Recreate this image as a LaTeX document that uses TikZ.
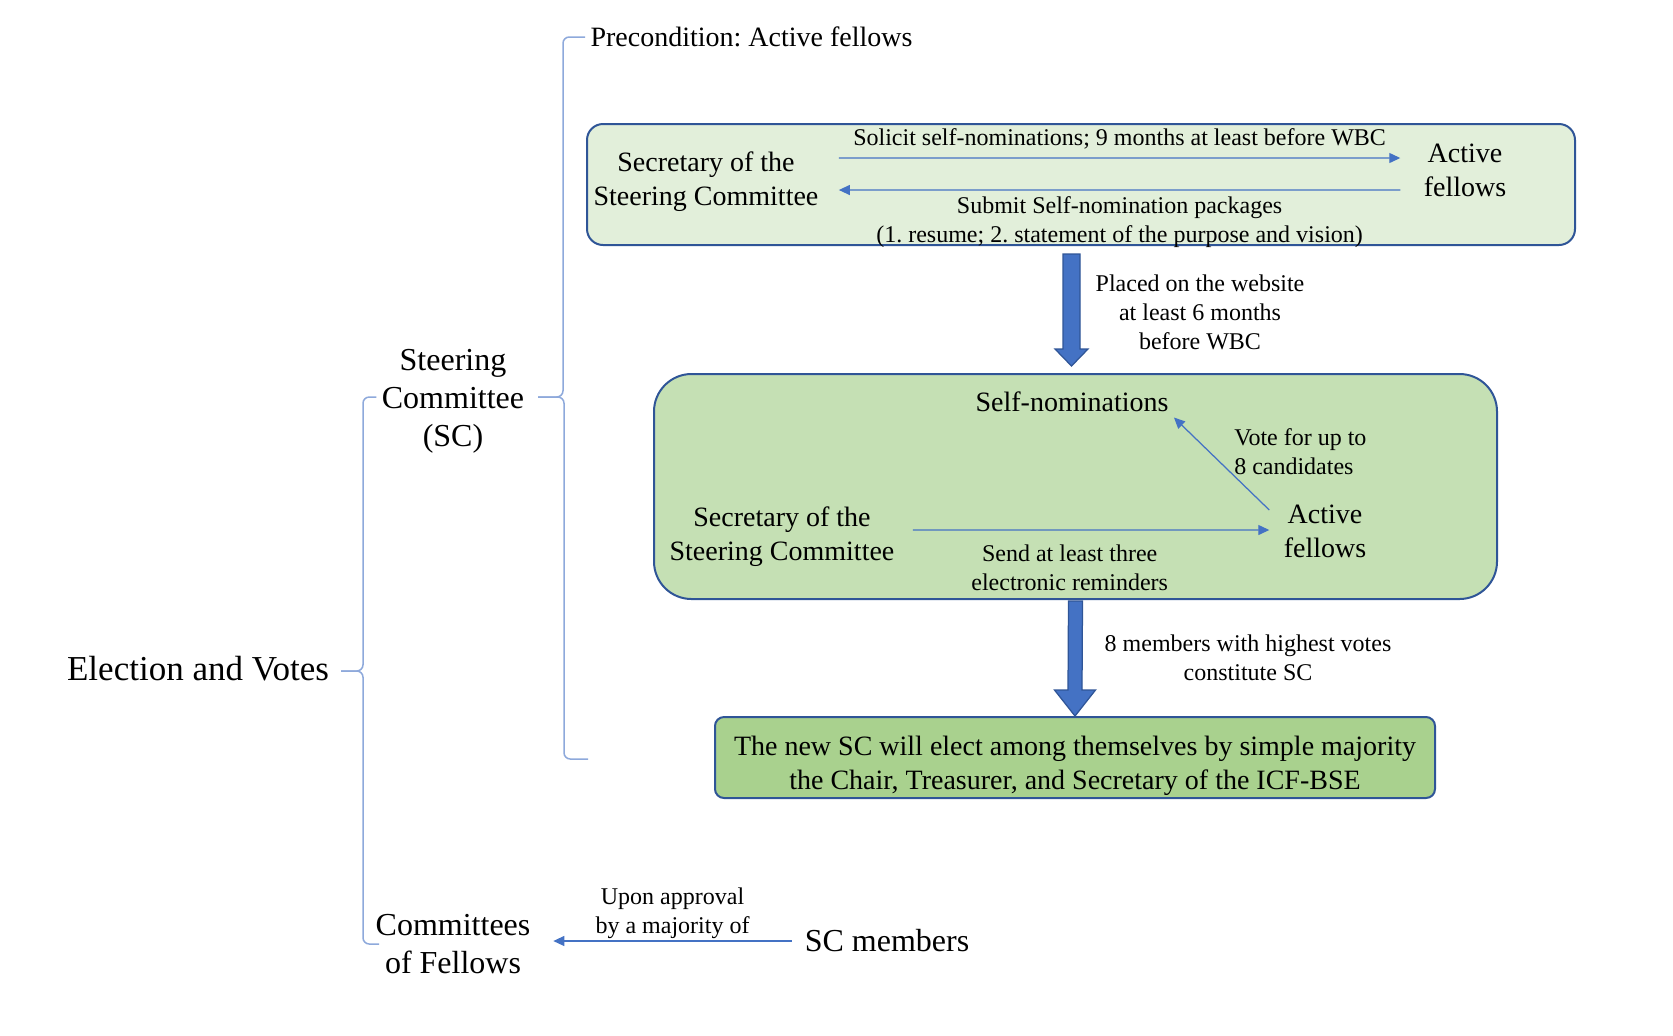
\documentclass[tikz,border=0pt]{standalone}
\usepackage{fontspec}
\setmainfont{Liberation Serif}
\frenchspacing
\usetikzlibrary{arrows.meta,positioning,calc}
\definecolor{lineblue}{HTML}{4472C4}
\definecolor{bracecol}{HTML}{8EA9DB}
\definecolor{boxedge}{HTML}{2F5597}
\definecolor{greenA}{HTML}{E2EFDA}
\definecolor{greenB}{HTML}{C5E0B4}
\definecolor{greenC}{HTML}{A9D18E}
\tikzstyle{panel} = [draw=boxedge,line width=0.8pt,rectangle,inner sep=0]
\tikzstyle{txt} = [align=center,font=\fontsize{11.2}{13.6}\selectfont,inner sep=2pt]
\tikzstyle{head} = [align=center,font=\fontsize{12.8}{15.2}\selectfont,inner sep=2pt]
\tikzstyle{lbl} = [align=center,text=black,font=\fontsize{9.6}{11.6}\selectfont,inner sep=1.5pt]
\tikzstyle{flow} = [-{Triangle[length=4.4pt,width=4pt]},lineblue,line width=0.5pt]
\tikzstyle{brace} = [bracecol,line width=0.6pt,rounded corners=2.5pt]
\tikzstyle{fat} = [fill=lineblue,draw=boxedge,line width=0.5pt]
\def \px {0.4pt}
% block arrow: start, tip, half shaft, half head, head length
\newcommand{\fatarrow}[5]{\path[fat] ($(#1)+(-#3,0)$) -- ($(#2)+(-#3,-#5)$) -- ($(#2)+(-#4,-#5)$) -- (#2) -- ($(#2)+(#4,-#5)$) -- ($(#2)+(#3,-#5)$) -- ($(#1)+(#3,0)$) -- cycle;}

\begin{document}
\begin{tikzpicture}[x=\px,y=-\px]
      \useasboundingbox (0,0) rectangle (1673,1035);
      % panels
      \node[panel,fill=greenA,rounded corners=6.4pt,minimum width=988*\px,minimum height=121*\px] (top) at (1081,184.5) {};
      \node[panel,fill=greenB,rounded corners=15pt,minimum width=843*\px,minimum height=225*\px] (mid) at (1075.5,486.5) {};
      \node[panel,fill=greenC,rounded corners=3.6pt,minimum width=720*\px,minimum height=81*\px] (final) at (1075,757.5) {};
      \node[txt] (finaltxt) at ($(final)+(0,8.5)$) {The new SC will elect among themselves by simple majority\\the Chair, Treasurer, and Secretary of the ICF-BSE};

      % tree labels
      \node[align=center,font=\fontsize{14}{17}\selectfont,inner sep=2pt] (elect) at (198,669) {Election and Votes};
      \node[head] (sc) at (453,401) {Steering\\Committee\\(SC)};
      \node[head] (cof) at (453,944) {Committees\\of Fellows};
      \node[head] (scm) at (887,941) {SC members};
      \node[txt,anchor=west] (precond) at (585,37) {Precondition: Active fellows};

      % braces
      \coordinate (sctip) at (538,397);
      \coordinate (scend) at (588,759);
      \draw[brace] (precond.west) -- ++(-22,0) |- (sctip);
      \draw[brace] (sctip) -- ++(26,0) |- (scend);
      \coordinate (eltip) at (341,671);
      \coordinate (elend) at (379,944);
      \draw[brace] (sc.west |- sctip) -| (363,671) -- (eltip);
      \draw[brace] (eltip) -- ++(22,0) |- (elend);

      % first step
      \node[txt] (sec1) at (706,182) {Secretary of the\\Steering Committee};
      \node[txt] (act1) at (1465,170) {Active\\fellows};
      \draw[flow] ([xshift=6pt,yshift=9.6pt]sec1.east) -- ([xshift=-7.2pt,yshift=4.8pt]act1.west) node[lbl,midway,above=1.7pt]{Solicit self-nominations; 9 months at least before WBC};
      \draw[flow] ([xshift=-7.2pt,yshift=-8pt]act1.west) -- ([xshift=6pt,yshift=-3.2pt]sec1.east) node[lbl,midway,below=0.85pt]{Submit Self-nomination packages\\(1. resume; 2. statement of the purpose and vision)};

      \coordinate (a1s) at ($(top.south -| mid.north)+(-4,8)$);
      \coordinate (a1e) at ($(mid.north)+(-4,-7)$);
      \fatarrow{a1s}{a1e}{8.5}{16.5}{17}
      \node[lbl] (placed) at (1200,312) {Placed on the website\\at least 6 months\\before WBC};

      % second step
      \node[txt] (selfnom) at (1072,402) {Self-nominations};
      \node[txt] (sec2) at (782,537) {Secretary of the\\Steering Committee};
      \node[txt] (act2) at (1325,531) {Active\\fellows};
      \draw[flow] ([xshift=5.2pt,yshift=2.8pt]sec2.east) -- ([xshift=-3.6pt,yshift=0.4pt]act2.west) node[lbl,pos=0.44,below=4pt]{Send at least three\\electronic reminders};
      \draw[flow] ([xshift=-3.6pt,yshift=8.4pt]act2.west) -- (selfnom.south east);
      \node[lbl,align=left,anchor=west] (vote) at (1230,452) {Vote for up to\\8 candidates};

      \coordinate (a2s) at ($(mid.south)+(0,1)$);
      \coordinate (a2e) at (final.north);
      \fatarrow{a2s}{a2e}{7}{20.5}{26}
      \node[lbl] (members) at (1248,658) {8 members with highest votes\\constitute SC};

      % committees of fellows
      \draw[flow] ([xshift=-3pt]scm.west) -- ($(cof.east |- scm.west)+(17.5,0)$) node[lbl,midway,above=-0.85pt]{Upon approval\\by a majority of};
\end{tikzpicture}
\end{document}
